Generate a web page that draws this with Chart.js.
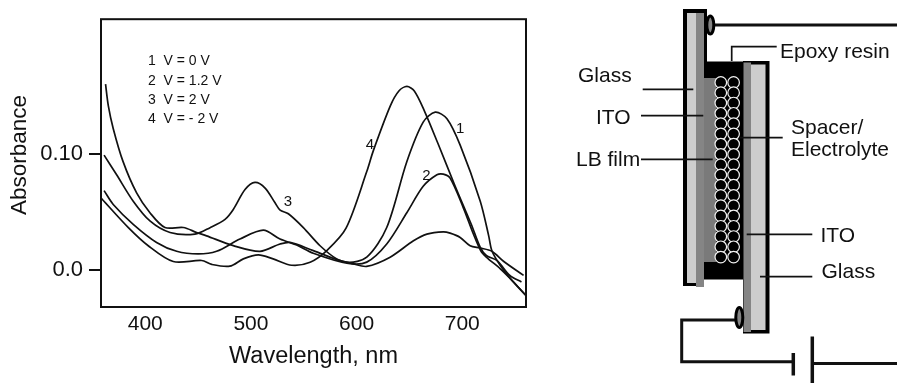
<!DOCTYPE html>
<html>
<head>
<meta charset="utf-8">
<title>Absorbance vs wavelength</title>
<script src="https://cdn.jsdelivr.net/npm/chart.js@4"></script>
<style>
  html, body { margin: 0; padding: 0; background: #fff; overflow: hidden; }
  #wrap { position: relative; width: 897px; height: 384px; }
  #chart { position: absolute; left: 0; top: 0; }
  #cell { position: absolute; left: 0; top: 0; pointer-events: none; }
  #cell text { font-family: "Liberation Sans", sans-serif; font-size: 21px; fill: #111; dominant-baseline: central; }
</style>
</head>
<body>
<div id="wrap">
  <canvas id="chart" width="897" height="384"></canvas>
  <svg id="cell" width="897" height="384" viewBox="0 0 897 384"></svg>
</div>
<script>
// spectra, wavelength in nm / absorbance
const wl1 = [362.4, 365, 369.7, 379, 391.8, 404.4, 418.6, 436, 448.6, 458, 483.3, 508.6, 527.5, 537, 559, 590.7, 609.6, 628.5, 647.5, 663, 674.4, 685.5, 698, 717, 725, 728, 736, 747, 760];
const abs1 = [0.1609, 0.1423, 0.1223, 0.0937, 0.0666, 0.0494, 0.0366, 0.0366, 0.0323, 0.0294, 0.0209, 0.016, 0.0223, 0.0237, 0.0166, 0.0066, 0.0109, 0.0366, 0.0937, 0.128, 0.1366, 0.1309, 0.108, 0.0594, 0.0294, 0.0165, 0.0037, -0.0092, -0.0221];

const wl2 = [361, 369.7, 388.6, 410.7, 429.7, 450, 467.5, 489.6, 511.7, 527.5, 543.3, 559, 590.7, 609.6, 628.5, 647.5, 663, 676, 682, 688.5, 701, 710.6, 717.5, 723, 736, 748.5, 760];
const abs2 = [0.0686, 0.0566, 0.0394, 0.0237, 0.016, 0.0137, 0.016, 0.0266, 0.0343, 0.0266, 0.0214, 0.0143, 0.0057, 0.0066, 0.0223, 0.0494, 0.0723, 0.0823, 0.0829, 0.0794, 0.0537, 0.0308, 0.0165, 0.0108, 0.0008, -0.0106, -0.0221];

const wl3 = [361, 372.9, 388.6, 404.4, 423.4, 447, 461.3, 475.5, 483.3, 494.4, 503.8, 513.4, 522.8, 527.6, 535.4, 549.6, 565.4, 581.2, 597, 609.6, 631.7, 653.8, 666.5, 682, 688.5, 698, 707.4, 717, 728, 739, 758];
const abs3 = [0.0994, 0.0823, 0.0594, 0.0423, 0.0323, 0.0309, 0.0365, 0.0437, 0.0523, 0.0695, 0.0757, 0.0708, 0.058, 0.0517, 0.0485, 0.0365, 0.0208, 0.0094, 0.0051, 0.0029, 0.0109, 0.0251, 0.0309, 0.0329, 0.0317, 0.028, 0.0208, 0.0188, 0.016, 0.0074, -0.0049];

const wl4 = [358.6, 384, 402.8, 426.5, 453.4, 462.9, 480, 492.8, 507, 521, 538.6, 556, 571.8, 590, 609.6, 616, 632, 640, 647.6, 654.6, 664, 677, 692.7, 708.5, 717, 723, 733, 745, 756];
const abs4 = [0.0617, 0.0365, 0.0208, 0.0071, 0.008, 0.0046, 0.0031, 0.0094, 0.0129, 0.0094, 0.0039, 0.0065, 0.0166, 0.036, 0.0851, 0.1037, 0.1423, 0.155, 0.1589, 0.155, 0.138, 0.1094, 0.0737, 0.0394, 0.0194, 0.0122, 0.0079, -0.005, -0.0106];

const xTicks = [400, 500, 600, 700];
const yTicks = [0, 0.1];

// curve numbers next to the lines
const curveNames = ['1', '2', '3', '4'];
const curveNameX = [698, 666, 535, 612.5];
const curveNameY = [0.122, 0.081, 0.059, 0.1085];

const legendLines = ['1  V = 0 V', '2  V = 1.2 V', '3  V = 2 V', '4  V = - 2 V'];

const FONT = '"Liberation Sans", sans-serif';

function toPoints(xs, ys) {
    return xs.map((x, i) => ({ x: x, y: ys[i] }));
}

function spectrum(xs, ys) {
    return {
        data: toPoints(xs, ys),
        borderColor: '#111',
        borderWidth: 1.7,
        pointRadius: 0,
        tension: 0.3,
        fill: false
    };
}

// box, y title, voltage list and curve numbers
const annotations = {
    id: 'annotations',
    afterDatasetsDraw(chart) {
        const { ctx, chartArea, scales } = chart;
        ctx.save();
        ctx.strokeStyle = '#111';
        ctx.lineWidth = 2;
        ctx.strokeRect(chartArea.left, chartArea.top, chartArea.right - chartArea.left, chartArea.bottom - chartArea.top);

        ctx.fillStyle = '#111';
        ctx.textBaseline = 'middle';
        ctx.font = '14px ' + FONT;
        ctx.textAlign = 'left';
        legendLines.forEach((line, i) => ctx.fillText(line, 148, 61.5 + i * 19.3));

        ctx.font = '15px ' + FONT;
        ctx.textAlign = 'center';
        curveNames.forEach((name, i) => {
            ctx.fillText(name, scales.x.getPixelForValue(curveNameX[i]), scales.y.getPixelForValue(curveNameY[i]));
        });

        ctx.font = '22.5px ' + FONT;
        ctx.translate(20, 155);
        ctx.rotate(-Math.PI / 2);
        ctx.fillText('Absorbance', 0, 0);
        ctx.restore();
    }
};

new Chart(document.getElementById('chart'), {
    type: 'line',
    data: {
        datasets: [spectrum(wl1, abs1), spectrum(wl2, abs2), spectrum(wl3, abs3), spectrum(wl4, abs4)]
    },
    options: {
        responsive: false,
        animation: false,
        layout: { padding: { top: 16, right: 371, left: 0, bottom: 0 } },
        plugins: { legend: { display: false }, tooltip: { enabled: false } },
        scales: {
            x: {
                type: 'linear',
                min: 358.1,
                max: 760.3,
                border: { display: false },
                grid: { display: false },
                afterFit(scale) { scale.height = 77; },
                afterBuildTicks(scale) { scale.ticks = xTicks.map(v => ({ value: v })); },
                ticks: {
                    maxRotation: 0,
                    padding: -3,
                    color: '#111',
                    font: { family: FONT, size: 21 }
                },
                title: {
                    display: true,
                    text: 'Wavelength, nm',
                    color: '#111',
                    padding: { top: 4, bottom: 13 },
                    font: { family: FONT, size: 23.5 }
                }
            },
            y: {
                min: -0.0323,
                max: 0.2172,
                border: { display: false },
                grid: { drawOnChartArea: false, drawTicks: true, tickLength: 12, tickColor: '#111', lineWidth: 2 },
                afterFit(scale) { scale.width = 101; },
                afterBuildTicks(scale) { scale.ticks = yTicks.map(v => ({ value: v })); },
                ticks: {
                    padding: 6,
                    color: '#111',
                    font: { family: FONT, size: 22 },
                    callback: v => (v === 0 ? '0.0' : v.toFixed(2))
                }
            }
        }
    },
    plugins: [annotations]
});

// cell schematic on the right
const NS = 'http://www.w3.org/2000/svg';
const svg = document.getElementById('cell');

function el(name, attrs, text) {
    const node = document.createElementNS(NS, name);
    Object.keys(attrs).forEach(k => node.setAttribute(k, attrs[k]));
    if (text) node.textContent = text;
    svg.appendChild(node);
}
function box(x, y, w, h, fill) { el('rect', { x: x, y: y, width: w, height: h, fill: fill }); }
function wire(d, width) { el('path', { d: d, fill: 'none', stroke: '#111', 'stroke-width': width }); }

const LIGHT = '#cdcdcd', DARK = '#858585', FILM = '#7a7a7a';

// left plate
box(683, 9, 21, 277, '#000');
box(704, 9, 3, 53, '#000');
box(687, 13, 9, 270, LIGHT);
box(696, 13, 8, 274, DARK);
// epoxy and film
box(704, 61.5, 40, 218, '#000');
box(704, 78, 12, 184, FILM);
// right plate
box(743, 61, 26.5, 272.5, '#000');
box(743.5, 62.5, 7.5, 269.5, DARK);
box(751, 64.5, 14.5, 265.5, LIGHT);

// spacer beads
for (let row = 0; row < 18; row++) {
    [720.8, 733.6].forEach(cx => {
        el('circle', { cx: cx, cy: 82.5 + row * 10.27, r: 5.8, fill: '#000', stroke: '#f2f2f2', 'stroke-width': 1.2 });
    });
}

// wiring
wire('M714 25H897', 3);
wire('M736 320H681.7V361.7H793', 3);
wire('M793.3 353V375.5', 3.5);
wire('M812.3 336.5V383', 3.5);
wire('M812.3 363.5H897', 3);
el('ellipse', { cx: 710.3, cy: 25, rx: 3.5, ry: 9, fill: DARK, stroke: '#000', 'stroke-width': 3 });
el('ellipse', { cx: 739.3, cy: 317.5, rx: 3.5, ry: 10, fill: DARK, stroke: '#000', 'stroke-width': 3 });

// leader lines
wire('M731.7 61V46.7H776.7', 1.7);
wire('M642.7 89.3H693.3', 1.7);
wire('M641 115.7H703.3', 1.7);
wire('M641 159.3H712.7', 1.7);
wire('M740 137.7H782.7', 1.7);
wire('M746.7 234.3H812.3', 1.7);
wire('M760 276.7H812.3', 1.7);

// labels
el('text', { x: 780, y: 50 }, 'Epoxy resin');
el('text', { x: 578, y: 74 }, 'Glass');
el('text', { x: 596, y: 116.5 }, 'ITO');
el('text', { x: 576, y: 158 }, 'LB film');
el('text', { x: 791, y: 126 }, 'Spacer/');
el('text', { x: 791, y: 148 }, 'Electrolyte');
el('text', { x: 820.5, y: 234 }, 'ITO');
el('text', { x: 821.5, y: 270 }, 'Glass');
</script>
</body>
</html>
